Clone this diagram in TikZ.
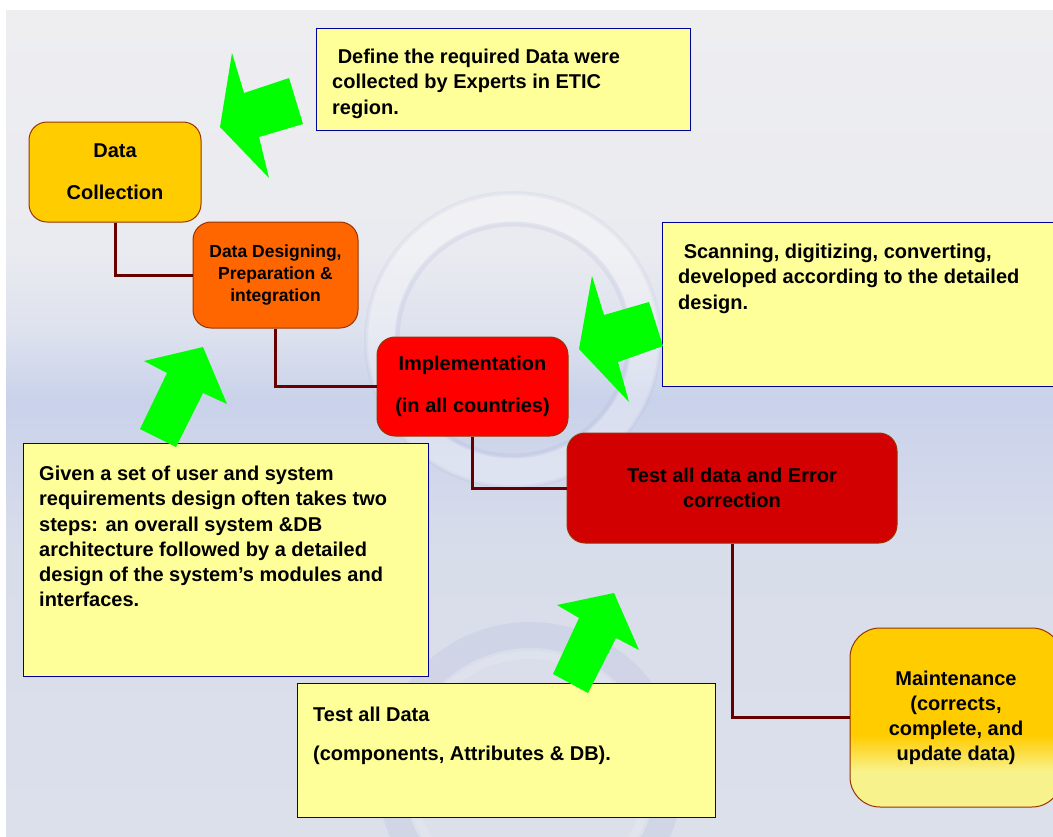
\documentclass[tikz,border=0pt]{standalone}
\usepackage{fontspec}
\setmainfont{Liberation Sans}

\definecolor{notefill}{HTML}{FFFF99}
\definecolor{noteline}{HTML}{000099}
\definecolor{linkred}{HTML}{660000}
\definecolor{boxline}{HTML}{993300}
\definecolor{collectc}{HTML}{FFCC00}
\definecolor{designc}{HTML}{FF6600}
\definecolor{implc}{HTML}{FF0000}
\definecolor{testc}{HTML}{D20000}
\definecolor{paleyel}{HTML}{F8F28C}
\definecolor{greenarrow}{HTML}{00FF00}
\definecolor{bgA}{HTML}{EEEEF1}
\definecolor{bgB}{HTML}{EAEBF0}
\definecolor{bgC}{HTML}{DEE2EE}
\definecolor{bgD}{HTML}{C9D2EA}
\definecolor{bgE}{HTML}{CFD6EB}
\definecolor{bgF}{HTML}{D8DDEA}
\definecolor{bgG}{HTML}{DCE0EB}
\definecolor{ringblue}{HTML}{AEB4D8}

% Maintenance box: solid amber on top, fading to pale yellow at the bottom
\pgfdeclareverticalshading{maintshade}{100bp}{%
  color(0bp)=(paleyel); color(35bp)=(paleyel);
  color(45bp)=(collectc); color(100bp)=(collectc)}

\newcommand\notefont{\fontsize{20}{25.3}\selectfont\bfseries}

\tikzset{
  proc/.style={draw=boxline, line width=1pt, rounded corners=18pt,
    inner sep=0pt, align=center, text=black},
  note/.style={draw=noteline, fill=notefill, line width=1.3pt,
    inner sep=0pt, anchor=north west},
  notetext/.style={inner sep=0pt, anchor=north west, align=left,
    font=\notefont},
  conn/.style={draw=linkred, line width=3pt},
  blockarrow/.style={fill=greenarrow, draw=none}
}

\begin{document}
\begin{tikzpicture}[x=1pt, y=-1pt]
\useasboundingbox (0,0) rectangle (1053,836);
\clip (0,0) rectangle (1053,836);
\fill[white] (0,0) rectangle (1053,836);

% backdrop: soft vertical gradient with a bluish band
\shade[top color=bgA, bottom color=bgB] (6,10) rectangle (1053,250);
\shade[top color=bgB, bottom color=bgC] (6,250) rectangle (1053,330);
\shade[top color=bgC, bottom color=bgD] (6,330) rectangle (1053,400);
\shade[top color=bgD, bottom color=bgE] (6,400) rectangle (1053,450);
\shade[top color=bgE, bottom color=bgF] (6,450) rectangle (1053,550);
\shade[top color=bgF, bottom color=bgG] (6,550) rectangle (1053,836);

% faint glass rings
\draw[white, line width=30pt, opacity=0.3] (513,340) circle (132);
\draw[ringblue, line width=5pt, opacity=0.22] (513,340) circle (116);
\draw[ringblue, line width=4pt, opacity=0.15] (513,340) circle (147);
\draw[ringblue, line width=26pt, opacity=0.22] (530,775) circle (140);
\draw[white, line width=8pt, opacity=0.15] (530,775) circle (120);

% process steps
\node[proc, fill=collectc, minimum width=172pt, minimum height=100pt,
  font=\fontsize{20}{42}\selectfont\bfseries] (dc) at (115,172)
  {Data\\Collection};
\node[proc, fill=designc, minimum width=165pt, minimum height=106pt,
  font=\fontsize{17.5}{22}\selectfont\bfseries] (dd) at (275.5,275)
  {Data Designing,\\Preparation \&\\integration};
\node[proc, fill=implc, minimum width=191pt, minimum height=99pt,
  font=\fontsize{20}{42}\selectfont\bfseries] (im) at (472.5,386.5)
  {Implementation\\(in all countries)};
\node[proc, fill=testc, minimum width=330pt, minimum height=110pt,
  font=\fontsize{20}{25}\selectfont\bfseries] (te) at (732,488)
  {Test all data and Error\\correction};
\node[proc, rounded corners=30pt, shade, shading=maintshade,
  minimum width=212pt, minimum height=179pt,
  font=\fontsize{20}{25}\selectfont\bfseries] (mt) at (956,717.5)
  {Maintenance\\(corrects,\\complete, and\\update data)};

% connectors between the steps
\draw[conn] (dc.south) |- (dd.west);
\draw[conn] (dd.south) |- (im.west);
\draw[conn] (im.south) |- (te.west);
\draw[conn] (te.south) |- (mt.west);

% explanatory notes
\node[note, minimum width=374pt, minimum height=102pt] (ndef) at (316,28) {};
\node[notetext] (tdef) at (332,45.5)
  {\strut\ Define the required Data were\\collected by Experts in ETIC\\region.};

\node[note, minimum width=400pt, minimum height=164pt] (nscan) at (662,222) {};
\node[notetext] (tscan) at (678,240.5)
  {\strut\ Scanning, digitizing, converting,\\developed according to the detailed\\design.};

\node[note, minimum width=405pt, minimum height=233pt] (ngiven) at (23,443) {};
\node[notetext] (tgiven) at (39,462.5)
  {\strut Given a set of user and system\\requirements design often takes two\\steps: an overall system \&DB\\architecture followed by a detailed\\design of the system’s modules and\\interfaces.};

\node[note, minimum width=418pt, minimum height=134pt] (ntest) at (297,683) {};
\node[notetext] (ttest) at (313,703.5)
  {\strut Test all Data\\[13.5pt](components, Attributes \& DB).};

% green block arrows
\fill[blockarrow] (220,127) -- (232,53) -- (244,93) -- (289,78) -- (303,124)
  -- (259,137) -- (269,178) -- cycle;
\fill[blockarrow] (203,347) -- (227,404) -- (203,393) -- (176,447) -- (140,429)
  -- (167,373) -- (144,361) -- cycle;
\fill[blockarrow] (579,349) -- (592,276) -- (604,315) -- (649,302) -- (663,346)
  -- (618,362) -- (629,402) -- cycle;
\fill[blockarrow] (614,593) -- (639,650) -- (616,638) -- (588,693) -- (553,674)
  -- (579,618) -- (557,605) -- cycle;
\end{tikzpicture}
\end{document}
